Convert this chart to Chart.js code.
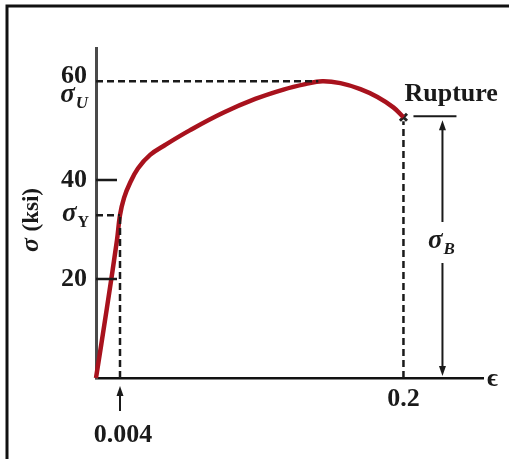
<!DOCTYPE html>
<html>
<head>
<meta charset="utf-8">
<script src="https://cdn.jsdelivr.net/npm/chart.js@4/dist/chart.umd.min.js"></script>
<style>
  html, body { margin: 0; padding: 0; background: #ffffff; }
  canvas { display: block; }
</style>
</head>
<body>
<canvas id="c" width="509" height="459"></canvas>
<script>
// ---- Data (strain ε, stress σ in ksi) ----
const strain = [0, 0.0018, 0.0035, 0.004, 0.0068, 0.0109, 0.0165, 0.0248, 0.0352, 0.0525, 0.0753, 0.0975, 0.117, 0.1321, 0.1439, 0.1564, 0.1702, 0.182, 0.193, 0.2];
const stress = [0, 14.0, 27.9, 32.9, 36.4, 39.4, 42.4, 45.1, 47.1, 50.1, 53.6, 56.4, 58.3, 59.4, 60.0, 59.6, 58.4, 56.8, 54.7, 52.7];
const yTicks = [20, 40, 60];
const xTicks = [0.2];
const yieldStrain = 0.004;   // ε at yield (labelled 0.004)
const yieldStress = 32.9;    // σY
const ultimateStrain = 0.1439;
const ultimateStress = 60;   // σU
const ruptureStrain = 0.2;
const ruptureStress = 52.7;  // σB

// ---- Piecewise (not-to-scale) strain axis, as in the textbook figure ----
const X_MAX = 0.255;
const KNOT_V = [0, 0.004, X_MAX];
const KNOT_D = [0, 24 / 387, 1];
function toDec(v) {
  for (let i = 0; i < KNOT_V.length - 1; i++) {
    if (v <= KNOT_V[i + 1] || i === KNOT_V.length - 2) {
      const t = (v - KNOT_V[i]) / (KNOT_V[i + 1] - KNOT_V[i]);
      return KNOT_D[i] + t * (KNOT_D[i + 1] - KNOT_D[i]);
    }
  }
  return 0;
}
function fromDec(d) {
  for (let i = 0; i < KNOT_D.length - 1; i++) {
    if (d <= KNOT_D[i + 1] || i === KNOT_D.length - 2) {
      const t = (d - KNOT_D[i]) / (KNOT_D[i + 1] - KNOT_D[i]);
      return KNOT_V[i] + t * (KNOT_V[i + 1] - KNOT_V[i]);
    }
  }
  return 0;
}
class PiecewiseScale extends Chart.LinearScale {
  getPixelForValue(v) { return v === null ? NaN : this.getPixelForDecimal(toDec(v)); }
  getValueForPixel(p) { return fromDec(this.getDecimalForPixel(p)); }
}
PiecewiseScale.id = 'piecewise';
PiecewiseScale.defaults = Chart.LinearScale.defaults;
Chart.register(PiecewiseScale);

const SERIF = '"Liberation Serif", "DejaVu Serif", serif';
const INK = '#1a1a1a';

function arrowHead(ctx, x, y, dir) { // dir: -1 up, +1 down ; (x,y) = tip
  ctx.beginPath();
  ctx.moveTo(x, y);
  ctx.lineTo(x - 3.5, y - dir * 10);
  ctx.lineTo(x + 3.5, y - dir * 10);
  ctx.closePath();
  ctx.fill();
}
function sigma(ctx, x, y, sub, subFont, align) {
  ctx.save();
  ctx.textBaseline = 'alphabetic';
  ctx.textAlign = 'left';
  const sFont = 'italic bold 27px ' + SERIF;
  ctx.font = sFont;
  const w1 = ctx.measureText('σ').width;
  ctx.font = subFont;
  const w2 = ctx.measureText(sub).width;
  const x0 = align === 'right' ? x - w1 - w2 - 1 : (align === 'center' ? x - (w1 + w2 + 1) / 2 : x);
  ctx.font = sFont;
  ctx.fillText('σ', x0, y);
  ctx.font = subFont;
  ctx.fillText(sub, x0 + w1 + 1, y + 6);
  ctx.restore();
}

const annotate = {
  id: 'annotate',
  afterDatasetsDraw(chart) {
    const ctx = chart.ctx;
    const xs = chart.scales.x, ys = chart.scales.y;
    const X = v => xs.getPixelForValue(v);
    const Y = v => ys.getPixelForValue(v);
    const x0 = X(0), y0 = Y(0);
    ctx.save();
    ctx.strokeStyle = INK;
    ctx.fillStyle = INK;

    // dashed guide lines
    ctx.setLineDash([7, 4]);
    ctx.lineWidth = 2.5;
    ctx.beginPath();
    ctx.moveTo(x0, Y(ultimateStress)); ctx.lineTo(X(ultimateStrain) - 4, Y(ultimateStress));
    ctx.moveTo(x0, Y(yieldStress)); ctx.lineTo(X(yieldStrain), Y(yieldStress));
    ctx.moveTo(X(yieldStrain), y0); ctx.lineTo(X(yieldStrain), Y(yieldStress));
    ctx.moveTo(X(ruptureStrain), y0); ctx.lineTo(X(ruptureStrain), Y(ruptureStress) + 4);
    ctx.stroke();
    ctx.setLineDash([]);

    // inward tick marks at 20 and 40
    ctx.lineWidth = 2.5;
    ctx.beginPath();
    [20, 40].forEach(v => { ctx.moveTo(x0, Y(v)); ctx.lineTo(x0 + 21, Y(v)); });
    ctx.stroke();

    // sigma labels on the stress axis
    sigma(ctx, 88, Y(ultimateStress) + 21, 'U', 'italic bold 17px ' + SERIF, 'right');
    sigma(ctx, 89, Y(yieldStress) + 6, 'Y', 'bold 16px ' + SERIF, 'right');

    // axis title  σ (ksi)
    ctx.save();
    ctx.translate(38, 220);
    ctx.rotate(-Math.PI / 2);
    ctx.textBaseline = 'alphabetic';
    ctx.textAlign = 'left';
    ctx.font = 'italic bold 26px ' + SERIF;
    const ws = ctx.measureText('σ ').width;
    ctx.font = 'bold 23px ' + SERIF;
    const wk = ctx.measureText('(ksi)').width;
    const tx = -(ws + wk) / 2;
    ctx.font = 'italic bold 26px ' + SERIF;
    ctx.fillText('σ', tx, 0);
    ctx.font = 'bold 23px ' + SERIF;
    ctx.fillText('(ksi)', tx + ws, 0);
    ctx.restore();

    // ε at end of strain axis
    ctx.font = 'bold 26px ' + SERIF;
    ctx.textBaseline = 'middle';
    ctx.textAlign = 'left';
    ctx.fillText('ϵ', xs.right + 4, y0 + 1);

    // 0.004 arrow + label
    const xy = X(yieldStrain);
    ctx.lineWidth = 2;
    ctx.beginPath(); ctx.moveTo(xy, 411); ctx.lineTo(xy, 392); ctx.stroke();
    arrowHead(ctx, xy, 386, -1);
    ctx.textAlign = 'center';
    ctx.textBaseline = 'middle';
    ctx.font = 'bold 26px ' + SERIF;
    ctx.fillText('0.004', xy + 3, 435);

    // Rupture label and σB dimension
    const xr = X(ruptureStrain), yr = Y(ruptureStress);
    ctx.textAlign = 'left';
    ctx.textBaseline = 'alphabetic';
    ctx.font = 'bold 26px ' + SERIF;
    ctx.fillText('Rupture', xr + 1, yr - 16);
    ctx.lineWidth = 2;
    ctx.beginPath(); ctx.moveTo(xr + 10, yr - 1); ctx.lineTo(xr + 53, yr - 1); ctx.stroke();
    const xa = xr + 39;
    ctx.beginPath();
    ctx.moveTo(xa, yr + 10); ctx.lineTo(xa, 222);
    ctx.moveTo(xa, 263); ctx.lineTo(xa, y0 - 10);
    ctx.stroke();
    arrowHead(ctx, xa, yr + 3, -1);
    arrowHead(ctx, xa, y0 - 2, 1);
    sigma(ctx, xa - 1, 248, 'B', 'italic bold 17px ' + SERIF, 'center');

    ctx.restore();
  }
};

const frame = {
  id: 'frame',
  afterDraw(chart) {
    const ctx = chart.ctx;
    ctx.save();
    ctx.strokeStyle = '#111';
    ctx.lineWidth = 3;
    ctx.beginPath();
    ctx.moveTo(7, 459); ctx.lineTo(7, 6); ctx.lineTo(509, 6);
    ctx.stroke();
    ctx.restore();
  }
};

const tickFont = { family: SERIF, size: 26, weight: 'bold' };

new Chart(document.getElementById('c'), {
  type: 'line',
  data: {
    datasets: [
      {
        data: strain.map((e, i) => ({ x: e, y: stress[i] })),
        borderColor: '#a8121d',
        borderWidth: 4.5,
        pointRadius: 0,
        tension: 0.4,
        fill: false,
        clip: false
      },
      {
        data: [{ x: ruptureStrain, y: ruptureStress }],
        showLine: false,
        pointStyle: 'crossRot',
        pointRadius: 5,
        pointBorderWidth: 3,
        pointBorderColor: '#222',
        clip: false
      }
    ]
  },
  options: {
    responsive: false,
    animation: false,
    events: [],
    layout: { padding: { top: 48, right: 26, left: 0, bottom: 0 } },
    plugins: { legend: { display: false }, tooltip: { enabled: false } },
    scales: {
      x: {
        type: 'piecewise',
        min: 0,
        max: X_MAX,
        afterBuildTicks: s => { s.ticks = xTicks.map(v => ({ value: v })); },
        afterFit: s => { s.height = 81; },
        grid: { display: false, drawTicks: false },
        border: { display: true, color: '#111', width: 2.5 },
        ticks: {
          autoSkip: false,
          maxRotation: 0,
          padding: 6,
          color: INK,
          font: tickFont,
          callback: v => String(v)
        }
      },
      y: {
        type: 'linear',
        min: 0,
        max: 66.7,
        afterBuildTicks: s => { s.ticks = yTicks.map(v => ({ value: v })); },
        afterFit: s => { s.width = 96; },
        grid: { display: false, drawTicks: false },
        border: { display: true, color: '#4a4a4a', width: 3 },
        ticks: {
          autoSkip: false,
          padding: 9,
          color: INK,
          font: c => (c.tick && c.tick.value === 60)
            ? { family: SERIF, size: 26, weight: 'bold', lineHeight: 0.4 }
            : tickFont,
          callback: v => (v === 60 ? ['60', ''] : String(v))
        }
      }
    }
  },
  plugins: [annotate, frame]
});
</script>
</body>
</html>
